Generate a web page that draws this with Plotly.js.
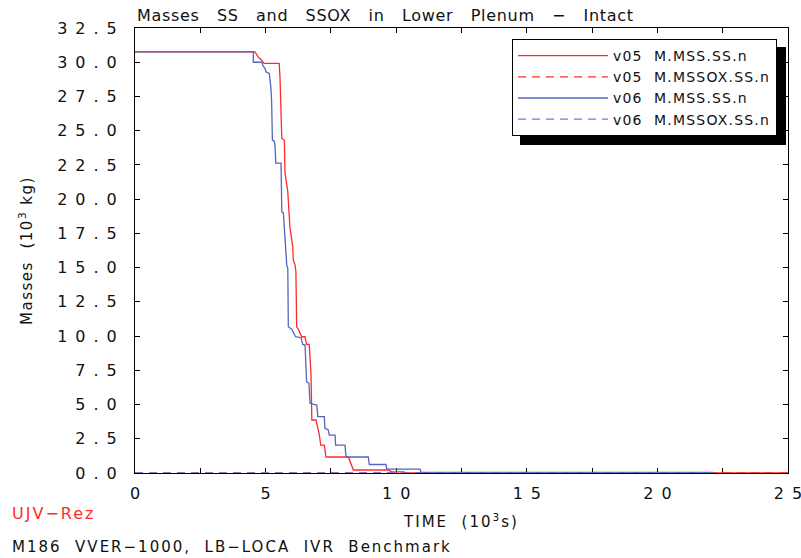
<!DOCTYPE html>
<html>
<head>
<meta charset="utf-8">
<script src="https://cdn.plot.ly/plotly-3.0.1.min.js"></script>
<style>
html,body{margin:0;padding:0;background:#fff;}
#chart{width:801px;height:558px;}
.gtitle{letter-spacing:0.7px;}
.annotation-text{letter-spacing:2px;}
.legendtext{letter-spacing:1.2px;}
.xtitle{letter-spacing:2px;}
.ytitle{letter-spacing:1.5px;}
</style>
</head>
<body>
<div id="chart"></div>
<script>
// ---- data (time in 10^3 s, mass in 10^3 kg) ----
var v05_mss_t = [0, 4.59, 4.66, 4.71, 4.81, 4.94, 5.52, 5.55, 5.62, 5.72, 5.74, 5.85, 5.93, 6.04, 6.06, 6.13, 6.16, 6.19, 6.25, 6.38, 6.51, 6.57, 6.67, 6.74, 6.77, 6.93, 7.06, 7.11, 7.25, 7.31, 8.17, 8.36, 9.70, 9.83, 10.3, 10.35, 25];
var v05_mss_m = [30.75, 30.75, 30.56, 30.39, 30.22, 29.91, 29.91, 28.93, 24.45, 24.3, 21.99, 20.53, 17.98, 16.52, 15.55, 15.18, 14.69, 10.68, 10.51, 9.95, 9.95, 9.39, 9.39, 7.15, 3.87, 3.87, 2.77, 2.04, 2.04, 1.17, 1.17, 0.22, 0.22, 0.08, 0.08, 0.0, 0.0];
var v05_mssox_t = [0, 25];
var v05_mssox_m = [0, 0];

var v06_mss_t = [0, 4.53, 4.53, 4.85, 4.91, 4.98, 5.02, 5.14, 5.20, 5.23, 5.26, 5.33, 5.36, 5.39, 5.59, 5.62, 5.68, 5.74, 5.81, 5.85, 5.87, 6.00, 6.10, 6.15, 6.36, 6.42, 6.51, 6.57, 6.66, 6.70, 6.96, 7.00, 7.25, 7.27, 7.40, 7.44, 7.66, 7.68, 8.04, 8.08, 8.93, 8.97, 9.61, 9.64, 10.91, 10.95, 22.13];
var v06_mss_m = [30.75, 30.75, 30.0, 30.0, 29.71, 29.54, 29.29, 29.18, 28.2, 27.23, 24.31, 24.23, 23.94, 22.63, 22.63, 19.07, 19.0, 17.0, 15.18, 14.94, 10.68, 10.51, 10.2, 9.95, 9.88, 9.39, 9.34, 6.66, 6.55, 5.09, 4.96, 4.11, 4.11, 3.26, 3.14, 2.77, 2.77, 2.04, 2.04, 1.17, 1.17, 0.62, 0.62, 0.29, 0.29, 0.05, 0.05];
var v06_mssox_t = [0, 22.13];
var v06_mssox_m = [0, 0];

var seriesNames = ['v05\u00a0\u00a0M.MSS.SS.n', 'v05\u00a0\u00a0M.MSSOX.SS.n', 'v06\u00a0\u00a0M.MSS.SS.n', 'v06\u00a0\u00a0M.MSSOX.SS.n'];
var xTickVals = [0, 5, 10, 15, 20, 25];
var yTickVals = [0, 2.5, 5, 7.5, 10, 12.5, 15, 17.5, 20, 22.5, 25, 27.5, 30, 32.5];

// ---- helpers ----
function spaced(s) { return s.split('').join('\u2002'); }
var xTickText = xTickVals.map(function (v) { return spaced(String(v)); });
var yTickText = yTickVals.map(function (v) { return spaced(v.toFixed(1)); });

var RED = '#ff2b2b';
var BLUE = '#5565c0';
var FONT = 'DejaVu Sans, sans-serif';
var S2 = '\u00a0\u00a0';
var S3 = '\u00a0\u00a0\u00a0';

var traces = [
  {x: v05_mss_t, y: v05_mss_m, name: seriesNames[0], legendgroup: 'a', mode: 'lines', line: {color: RED, width: 1.3}},
  {x: v05_mssox_t, y: v05_mssox_m, name: seriesNames[1], legendgroup: 'b', mode: 'lines', line: {color: RED, width: 1.3, dash: '8px,6px'}},
  {x: v06_mss_t, y: v06_mss_m, name: seriesNames[2], legendgroup: 'c', mode: 'lines', line: {color: BLUE, width: 1.3}},
  {x: v06_mssox_t, y: v06_mssox_m, name: seriesNames[3], legendgroup: 'd', mode: 'lines', line: {color: '#7a78d0', width: 1.3, dash: '8px,6px'}}
];
traces.forEach(function (t) { t.cliponaxis = false; t.hoverinfo = 'skip'; });

var layout = {
  width: 801, height: 558,
  margin: {l: 135, r: 13, t: 28, b: 85},
  paper_bgcolor: '#fff', plot_bgcolor: '#fff',
  font: {family: FONT, color: '#111', size: 15},
  title: {
    text: ['Masses', 'SS', 'and', 'SSOX', 'in', 'Lower', 'Plenum', '\u2212', 'Intact'].join(S3),
    font: {family: FONT, size: 16, color: '#111'},
    xref: 'paper', x: 0.003, xanchor: 'left',
    yref: 'container', y: 1 - 15 / 558, yanchor: 'middle'
  },
  xaxis: {
    range: [0, 25], tickmode: 'array', tickvals: xTickVals, ticktext: xTickText,
    ticks: 'inside', ticklen: 5, tickcolor: '#000', tickwidth: 1,
    minor: {dtick: 2.5, tick0: 0, ticks: 'inside', ticklen: 5, tickcolor: '#000', tickwidth: 1, showgrid: false},
    showline: true, linecolor: '#000', linewidth: 1, mirror: 'ticks',
    showgrid: false, zeroline: false, layer: 'below traces',
    tickfont: {family: FONT, size: 16, color: '#111'},
    ticklabelstandoff: 6, ticklabeloverflow: 'allow',
    title: {text: 'TIME' + S2 + '(10<sup>3</sup>s)', font: {family: FONT, size: 15, color: '#111'}, standoff: 14}
  },
  yaxis: {
    range: [0, 32.5], tickmode: 'array', tickvals: yTickVals, ticktext: yTickText,
    ticks: 'inside', ticklen: 5, tickcolor: '#000', tickwidth: 1,
    showline: true, linecolor: '#000', linewidth: 1, mirror: 'ticks',
    showgrid: false, zeroline: false, layer: 'below traces',
    tickfont: {family: FONT, size: 16, color: '#111'},
    ticklabelstandoff: 14, ticklabeloverflow: 'allow',
    title: {text: 'Masses\u00a0\u00a0(10<sup>3</sup>\u00a0kg)', font: {family: FONT, size: 15, color: '#111'}, standoff: 20}
  },
  showlegend: true,
  legend: {
    x: (512 - 135) / 653, y: (473 - 39) / 445, xanchor: 'left', yanchor: 'top',
    bgcolor: '#fff', bordercolor: '#000', borderwidth: 1,
    font: {family: FONT, size: 14, color: '#111'},
    tracegroupgap: 2, itemwidth: 90, traceorder: 'normal'
  },
  shapes: [
    {type: 'rect', xref: 'paper', yref: 'paper', layer: 'above',
     x0: (520 - 135) / 653, x1: (786 - 135) / 653, y0: (473 - 145) / 445, y1: (473 - 47) / 445,
     fillcolor: '#000', line: {width: 0}}
  ],
  annotations: [
    {text: 'UJV\u2212Rez', xref: 'paper', yref: 'paper', x: (10 - 135) / 653, y: -(513 - 473) / 445,
     xanchor: 'left', yanchor: 'middle', showarrow: false, font: {family: FONT, size: 16, color: '#ff2b2b'}},
    {text: ['M186', 'VVER\u22121000,', 'LB\u2212LOCA', 'IVR', 'Benchmark'].join(S2), xref: 'paper', yref: 'paper', x: (10 - 135) / 653, y: -(547 - 473) / 445,
     xanchor: 'left', yanchor: 'middle', showarrow: false, font: {family: FONT, size: 15, color: '#111'}}
  ]
};

Plotly.newPlot('chart', traces, layout, {staticPlot: true, displayModeBar: false});
</script>
</body>
</html>
